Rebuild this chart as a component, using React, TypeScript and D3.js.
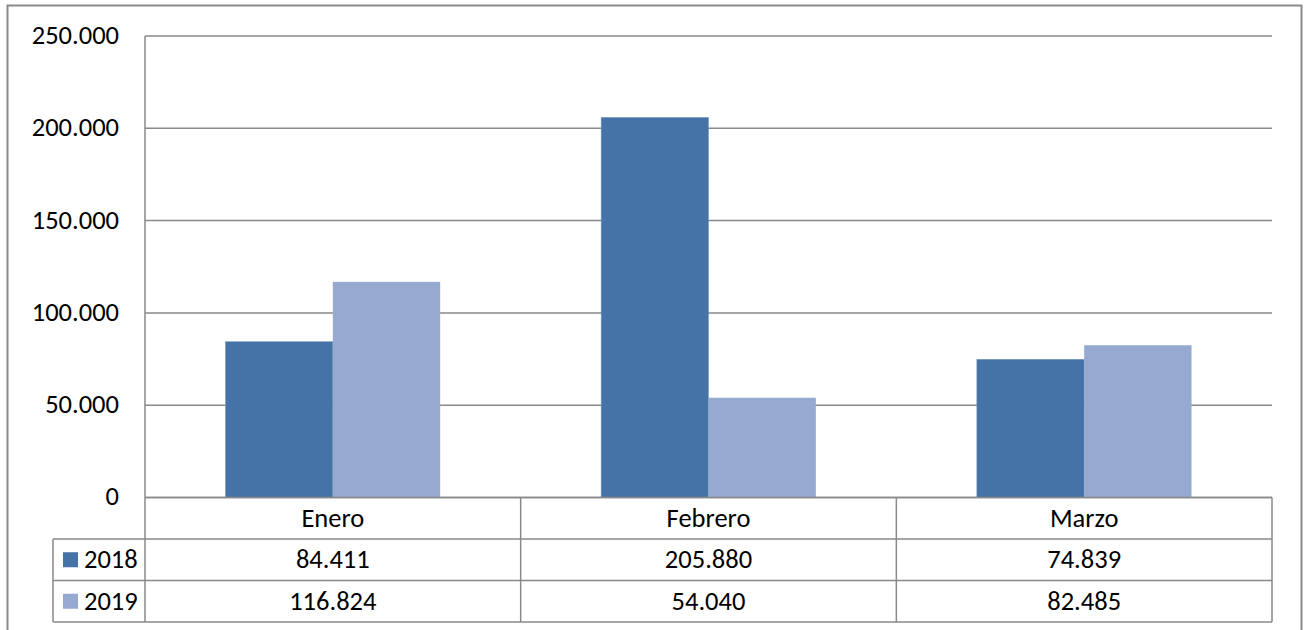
import React from 'react';
import * as d3 from 'd3';

// chart data
const categories = ['Enero', 'Febrero', 'Marzo'];
const seriesNames = ['2018', '2019'];
const values2018 = [84411, 205880, 74839];
const values2019 = [116824, 54040, 82485];
const yTicks = [0, 50000, 100000, 150000, 200000, 250000];

const colors = ['#4572A7', '#95A9D1'];
const gridColor = '#898989';
const font = "Carlito, Calibri, Lato, sans-serif";
const fs = 26.5;

const W = 1307;
const H = 630;

// thousands with a dot, like the source
const fmt = (v: number) =>
  v === 0 ? '0' : d3.format(',')(v).replace(/,/g, '.');

const App = () => {
  const left = 145;
  const right = 1272;
  const top = 36;
  const bottom = 497.5;
  const rowH = 41.5;
  const legendLeft = 53;

  const x = d3
    .scaleBand<string>()
    .domain(categories)
    .range([left, right])
    .paddingInner(0)
    .paddingOuter(0);

  // gap width 150% like Excel: bars take 2 / 3.5 of each category
  const inner = d3
    .scaleBand<string>()
    .domain(seriesNames)
    .range([0, x.bandwidth()])
    .paddingInner(0)
    .paddingOuter(0.75);

  const y = d3.scaleLinear().domain([0, 250000]).range([bottom, top]);

  const series = [values2018, values2019];

  const tableBottom = bottom + rowH * 3;

  return (
    <svg width={W} height={H} style={{ position: 'absolute', left: 0, top: 0 }}>
      <rect x={0} y={0} width={W} height={H} fill="#fff" />
      {/* outer frame */}
      <rect
        x={7.5}
        y={5.5}
        width={1294}
        height={H + 20}
        fill="none"
        stroke={gridColor}
        strokeWidth={2}
      />

      {/* gridlines */}
      {yTicks.map(t => (
        <line
          key={'g' + t}
          x1={left}
          x2={right}
          y1={y(t)}
          y2={y(t)}
          stroke={gridColor}
          strokeWidth={1.5}
        />
      ))}

      {/* y tick labels */}
      {yTicks.map(t => (
        <text
          key={'t' + t}
          x={119}
          y={y(t)}
          dy="0.3em"
          textAnchor="end"
          fontFamily={font}
          fontSize={fs}
          fill="#000"
        >
          {fmt(t)}
        </text>
      ))}

      {/* bars */}
      {series.map((vals, si) =>
        vals.map((v, ci) => (
          <rect
            key={`b${si}-${ci}`}
            x={(x(categories[ci]) as number) + (inner(seriesNames[si]) as number)}
            y={y(v)}
            width={inner.bandwidth()}
            height={bottom - y(v)}
            fill={colors[si]}
            stroke="#6f93bf"
            strokeWidth={0.6}
            strokeOpacity={si === 0 ? 0.8 : 0}
          />
        ))
      )}

      {/* data table lines */}
      <g stroke={gridColor} strokeWidth={1.5}>
        <line x1={left} x2={left} y1={top} y2={tableBottom} />
        <line x1={left} x2={right} y1={bottom} y2={bottom} />
        {[1, 2, 3].map(r => (
          <line
            key={'r' + r}
            x1={legendLeft}
            x2={right}
            y1={bottom + rowH * r}
            y2={bottom + rowH * r}
          />
        ))}
        <line
          x1={legendLeft}
          x2={legendLeft}
          y1={bottom + rowH}
          y2={tableBottom}
        />
        {categories.map(c => (
          <line
            key={'v' + c}
            x1={(x(c) as number) + x.bandwidth()}
            x2={(x(c) as number) + x.bandwidth()}
            y1={bottom}
            y2={tableBottom}
          />
        ))}
      </g>

      {/* category header */}
      {categories.map(c => (
        <text
          key={'c' + c}
          x={(x(c) as number) + x.bandwidth() / 2}
          y={bottom + rowH / 2}
          dy="0.33em"
          textAnchor="middle"
          fontFamily={font}
          fontSize={fs}
          fill="#000"
        >
          {c}
        </text>
      ))}

      {/* table values and legend keys */}
      {series.map((vals, si) => {
        const cy = bottom + rowH * (si + 1) + rowH / 2;
        return (
          <g key={'row' + si}>
            <rect x={63} y={cy - 7.5} width={15} height={15} fill={colors[si]} />
            <text
              x={84}
              y={cy}
              dy="0.33em"
              fontFamily={font}
              fontSize={fs}
              fill="#000"
            >
              {seriesNames[si]}
            </text>
            {vals.map((v, ci) => (
              <text
                key={'val' + ci}
                x={(x(categories[ci]) as number) + x.bandwidth() / 2}
                y={cy}
                dy="0.33em"
                textAnchor="middle"
                fontFamily={font}
                fontSize={fs}
                fill="#000"
              >
                {fmt(v)}
              </text>
            ))}
          </g>
        );
      })}
    </svg>
  );
};

export default App;
